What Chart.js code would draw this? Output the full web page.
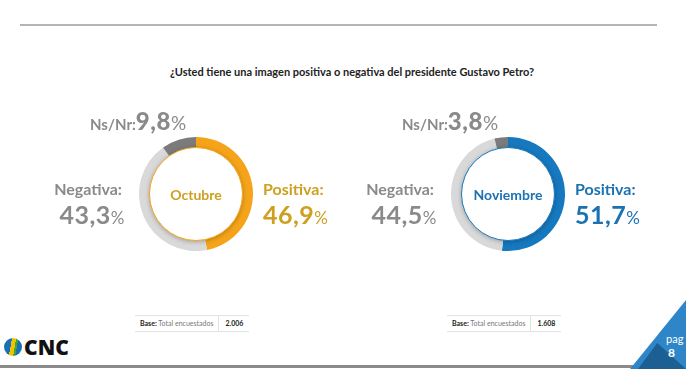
<!DOCTYPE html>
<html>
<head>
<meta charset="utf-8">
<script src="https://cdn.jsdelivr.net/npm/chart.js@4.4.0/dist/chart.umd.min.js"></script>
<style>
 body { margin: 0; background: #fff; font-family: "Lato", "Open Sans", sans-serif; }
 #slide { position: relative; width: 686px; height: 369px; overflow: hidden; background: #fff; }
 .abs { position: absolute; white-space: nowrap; }
 .topline { left: 20px; top: 24px; width: 637px; height: 2px; background: #b4b4b4; }
 .title { left: 0; width: 704px; top: 65px; text-align: center; font-size: 11px; font-weight: 700; color: #222; }
 .ring { position: absolute; width: 114px; height: 114px; }
 .inner { position: absolute; width: 92px; height: 92px; border-radius: 50%; background: #fff;
  box-shadow: 0 1px 4px rgba(0,0,0,0.25); display: flex; align-items: center; justify-content: center;
  font-weight: 700; font-size: 14px; }
 .lbl { font-weight: 700; font-size: 16px; line-height: 16px; }
 .big { font-weight: 700; font-size: 25px; line-height: 25px; letter-spacing: 0.5px; }
 .pct { font-weight: 400; font-size: 17px; }
 .ns { font-weight: 700; font-size: 15px; line-height: 24px; color: #8a8a8a; }
 .ns b { font-size: 24px; letter-spacing: 0.5px; }
 .ns .pct { font-size: 19px; }
 .base { border-top: 1px solid #e2e2e2; border-bottom: 1px solid #e2e2e2; font-size: 7px; height: 15px;
  line-height: 15px; display: flex; color: #777; }
 .base span { padding: 0 5px; }
 .base .n { border-left: 1px solid #e2e2e2; font-weight: 700; color: #222; padding: 0 6px; }
 .bottomline { left: 0; top: 365px; width: 650px; height: 3px; background: #8a8a8a; }
</style>
</head>
<body>
<div id="slide">
 <div class="abs topline"></div>
 <div class="abs title">¿Usted tiene una imagen positiva o negativa del presidente Gustavo Petro?</div>
 <div id="charts"></div>
 <div class="abs bottomline"></div>
 <div class="abs" style="left:4px;top:338px;width:18px;height:18px;border-radius:50%;
  background:linear-gradient(100deg,#1a6fb5 38%,#f2c200 38%,#f2c200 58%,#3aa935 58%,#3aa935 68%,#1a6fb5 68%);"></div>
 <div class="abs" style="left:24px;top:333px;font-size:21px;font-weight:800;color:#111;font-family:'Open Sans',sans-serif;">CNC</div>
 <div class="abs" style="left:630px;top:300px;width:56px;height:69px;background:#2e86c8;
  clip-path:polygon(100% 0,100% 100%,0 100%);"></div>
 <div class="abs" style="left:638px;top:340px;width:48px;height:29px;background:#1c5f92;
  clip-path:polygon(0 100%,40% 10%,100% 100%);"></div>
 <div class="abs" style="left:666px;top:332px;font-size:11px;color:#fff;">pag</div>
 <div class="abs" style="left:668px;top:345px;font-size:12px;font-weight:700;color:#fff;">8</div>
</div>
<script>
var segmentos = ["Positiva", "Negativa", "Ns/Nr"];
var meses = ["Octubre", "Noviembre"];
var octubre = [46.9, 43.3, 9.8];
var noviembre = [51.7, 44.5, 3.8];
var bases = ["2.006", "1.608"];

var paneles = [
 { mes: meses[0], data: octubre, base: bases[0], cx: 196, cy: 194, color: "#f5a41a", texto: "#cfa01f" },
 { mes: meses[1], data: noviembre, base: bases[1], cx: 508, cy: 194, color: "#1678be", texto: "#1a72b2" },
];

var grisClaro = "#d9d9d9";
var grisOscuro = "#7b7b7b";
var grisTexto = "#8a8a8a";

function fmt(v) {
 return v.toFixed(1).replace(".", ",");
}

var slide = document.getElementById("slide");

function addDiv(cls, css, html) {
 var d = document.createElement("div");
 d.className = "abs " + cls;
 d.style.cssText = css;
 d.innerHTML = html;
 slide.appendChild(d);
 return d;
}

paneles.forEach(function (p) {
 var canvas = document.createElement("canvas");
 canvas.className = "ring";
 canvas.width = 114;
 canvas.height = 114;
 canvas.style.left = p.cx - 57 + "px";
 canvas.style.top = p.cy - 57 + "px";
 slide.appendChild(canvas);

 new Chart(canvas, {
  type: "doughnut",
  data: {
   labels: segmentos,
   datasets: [
    {
     data: p.data,
     backgroundColor: [p.color, grisClaro, grisOscuro],
     borderWidth: 0,
    },
   ],
  },
  options: {
   responsive: false,
   animation: false,
   cutout: "80%",
   plugins: { legend: { display: false }, tooltip: { enabled: false } },
  },
 });

 // white center disc
 var inner = addDiv("inner", "left:" + (p.cx - 47) + "px;top:" + (p.cy - 47) + "px;border:1.5px solid " + p.color + ";color:" + p.texto + ";", p.mes);
 inner.className = "inner";

 // Ns/Nr
 addDiv("ns", "left:" + (p.cx - 106) + "px;top:" + (p.cy - 85) + "px;",
  segmentos[2] + ":<b>" + fmt(p.data[2]) + "</b><span class='pct'>%</span>");
 // Negativa
 addDiv("lbl", "right:" + (686 - (p.cx - 74)) + "px;top:" + (p.cy - 13) + "px;color:" + grisTexto + ";", segmentos[1] + ":");
 addDiv("big", "right:" + (686 - (p.cx - 71)) + "px;top:" + (p.cy + 8) + "px;color:" + grisTexto + ";",
  fmt(p.data[1]) + "<span class='pct'>%</span>");
 // Positiva
 addDiv("lbl", "left:" + (p.cx + 67) + "px;top:" + (p.cy - 13) + "px;color:" + p.texto + ";", segmentos[0] + ":");
 addDiv("big", "left:" + (p.cx + 67) + "px;top:" + (p.cy + 8) + "px;color:" + p.texto + ";",
  fmt(p.data[0]) + "<span class='pct'>%</span>");
 // base
 addDiv("base", "left:" + (p.cx - 61) + "px;top:315px;",
  "<span><b style='color:#222'>Base:</b> Total encuestados</span><span class='n'>" + p.base + "</span>");
});
</script>
</body>
</html>
